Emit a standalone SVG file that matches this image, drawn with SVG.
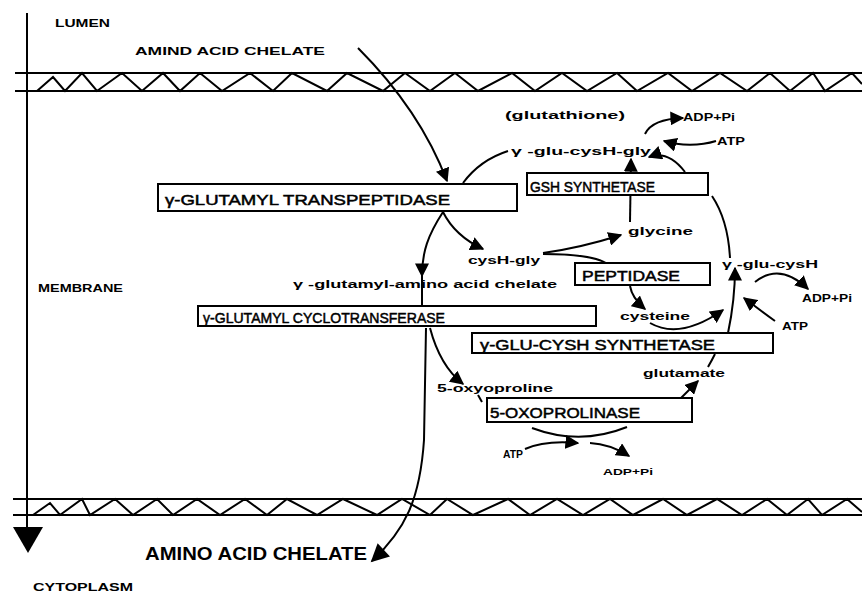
<svg xmlns="http://www.w3.org/2000/svg" width="862" height="593" viewBox="0 0 862 593">
<style>
.ln{fill:none;stroke:#000;stroke-width:2}
.zz{fill:none;stroke:#000;stroke-width:2;stroke-linejoin:miter}
.box{fill:#fff;stroke:#000;stroke-width:2}
.t{font-family:"Liberation Sans",Arial,sans-serif;font-weight:bold;fill:#000}
.bl{font-family:"Liberation Sans",Arial,sans-serif;font-size:15px;fill:#000;stroke:#000;stroke-width:0.5}
.s{font-size:10px}
</style>
<defs>
<marker id="ah" viewBox="0 0 10 10" refX="9" refY="5" markerWidth="14" markerHeight="14" markerUnits="userSpaceOnUse" orient="auto">
<path d="M0,0 L10,5 L0,10 z" fill="#000"/>
</marker>
<marker id="ahb" viewBox="0 0 10 10" refX="9" refY="5" markerWidth="20" markerHeight="18" markerUnits="userSpaceOnUse" orient="auto">
<path d="M0,0 L10,5 L0,10 z" fill="#000"/>
</marker>
</defs>
<rect width="862" height="593" fill="#fff"/>

<g id="membranes">
<line class="ln" x1="27" y1="13" x2="27" y2="528"/>
<polygon points="13,527 43,527 28,553" fill="#000"/>
<line class="ln" x1="15" y1="73" x2="862" y2="73"/>
<line class="ln" x1="15" y1="91" x2="862" y2="91"/>
<polyline class="zz" points="37,91 53,77 65,91 82,73 97,91 122,73 142,91 163,73 180,91 200,73 222,91 250,73 273,91 292,73 327,91 347,73 383,91 405,73 430,91 455,73 478,91 512,73 535,91 562,73 587,91 617,73 637,91 668,73 692,91 720,73 747,91 770,73 790,91 813,73 825,91 852,73 862,84"/>
<line class="ln" x1="13" y1="499" x2="862" y2="499"/>
<line class="ln" x1="13" y1="515" x2="862" y2="515"/>
<polyline class="zz" points="33,515 50,503 60,515 82,499 90,515 115,499 133,515 157,499 173,515 197,499 220,515 245,499 267,515 287,499 317,515 343,499 377,515 402,499 430,515 447,499 473,515 508,499 530,515 557,499 583,515 610,499 633,515 663,499 687,515 717,499 742,515 767,499 787,515 808,499 822,515 847,499 862,512"/>
</g>

<g id="labels">
<text class="t" x="55" y="27" font-size="11" textLength="55" lengthAdjust="spacingAndGlyphs">LUMEN</text>
<text class="t" x="135" y="55" font-size="11" textLength="190" lengthAdjust="spacingAndGlyphs">AMIND ACID CHELATE</text>
<text class="t" x="38" y="292" font-size="10" textLength="85" lengthAdjust="spacingAndGlyphs">MEMBRANE</text>
<text class="t" x="145" y="560" font-size="18" textLength="222" lengthAdjust="spacingAndGlyphs">AMINO ACID CHELATE</text>
<text class="t" x="33" y="591" font-size="11" textLength="100" lengthAdjust="spacingAndGlyphs">CYTOPLASM</text>
</g>

<g id="connectors">
<path class="ln" d="M358,48 Q420,110 447,181" marker-end="url(#ah)"/>
<path class="ln" d="M463,183 Q480,160 508,151"/>
<path class="ln" d="M443,212 Q455,236 483,249" marker-end="url(#ah)"/>
<path class="ln" d="M443,212 C428,235 422,252 422,276" marker-end="url(#ah)"/>
<path class="ln" d="M422,276 L422,306"/>
<path class="ln" d="M543,253 Q580,248 621,235" marker-end="url(#ah)"/>
<path class="ln" d="M543,254 Q590,254 606,263"/>
<path class="ln" d="M630,286 Q632,298 645,309" marker-end="url(#ah)"/>
<path class="ln" d="M630,222 L631,159" marker-end="url(#ah)"/>
<path class="ln" d="M730,258 Q728,220 712,196"/>
<path class="ln" d="M685,172 Q668,150 649,157" marker-end="url(#ah)"/>
<path class="ln" d="M645,134 Q652,119 683,118" marker-end="url(#ah)"/>
<path class="ln" d="M716,141 C700,146 680,146 664,141" marker-end="url(#ah)"/>
<path class="ln" d="M430,328 Q440,366 463,384" marker-end="url(#ah)"/>
<path class="ln" d="M426,328 L424,440 C420,500 405,530 372,561" marker-end="url(#ahb)"/>
<path class="ln" d="M478,395 L482,402"/>
<path class="ln" d="M680,399 L698,381" marker-end="url(#ah)"/>
<path class="ln" d="M708,367 Q712,360 715,354"/>
<path class="ln" d="M728,333 Q735,300 735,268" marker-end="url(#ah)"/>
<path class="ln" d="M650,323 Q680,340 723,310" marker-end="url(#ah)"/>
<path class="ln" d="M775,321 Q760,310 744,298" marker-end="url(#ah)"/>
<path class="ln" d="M755,282 Q780,262 808,289" marker-end="url(#ah)"/>
<path class="ln" d="M532,428 Q580,446 627,427"/>
<path class="ln" d="M525,449 Q545,440 578,443" marker-end="url(#ah)"/>
<path class="ln" d="M590,443 Q610,444 629,456" marker-end="url(#ah)"/>
</g>

<g id="glutathione">
<text class="t s" x="505" y="119" textLength="120" lengthAdjust="spacingAndGlyphs">(glutathione)</text>
<text class="t" x="511" y="155" font-size="11" textLength="140" lengthAdjust="spacingAndGlyphs">γ -glu-cysH-gly</text>
</g>
<g id="adp-top"><text class="t s" x="683" y="121" textLength="52" lengthAdjust="spacingAndGlyphs">ADP+Pi</text></g>
<g id="atp-top"><text class="t s" x="717" y="145" textLength="28" lengthAdjust="spacingAndGlyphs">ATP</text></g>

<g id="transpeptidase">
<rect class="box" x="158" y="184" width="359" height="27"/>
<text class="bl" x="165" y="205" textLength="285" lengthAdjust="spacingAndGlyphs">γ-GLUTAMYL TRANSPEPTIDASE</text>
</g>
<g id="gsh-synthetase">
<rect class="box" x="527" y="173" width="181" height="22"/>
<text class="bl" x="530" y="192" font-size="12" textLength="125" lengthAdjust="spacingAndGlyphs">GSH SYNTHETASE</text>
</g>
<g id="glycine"><text class="t s" x="628" y="235" textLength="65" lengthAdjust="spacingAndGlyphs">glycine</text></g>
<g id="cysh-gly"><text class="t s" x="468" y="264" textLength="72" lengthAdjust="spacingAndGlyphs">cysH-gly</text></g>
<g id="peptidase">
<rect class="box" x="575" y="263" width="135" height="22"/>
<text class="bl" x="582" y="281" font-size="14" textLength="98" lengthAdjust="spacingAndGlyphs">PEPTIDASE</text>
</g>
<g id="glu-cysh"><text class="t s" x="722" y="268" textLength="96" lengthAdjust="spacingAndGlyphs">γ -glu-cysH</text></g>
<g id="adp-right"><text class="t s" x="802" y="302" textLength="50" lengthAdjust="spacingAndGlyphs">ADP+Pi</text></g>
<g id="atp-right"><text class="t s" x="782" y="330" textLength="26" lengthAdjust="spacingAndGlyphs">ATP</text></g>
<g id="glutamyl-chelate"><text class="t s" x="293" y="288" textLength="264" lengthAdjust="spacingAndGlyphs">γ -glutamyl-amino acid chelate</text></g>
<g id="cysteine"><text class="t s" x="620" y="320" textLength="70" lengthAdjust="spacingAndGlyphs">cysteine</text></g>
<g id="cyclotransferase">
<rect class="box" x="198" y="306" width="398" height="20"/>
<text class="bl" x="203" y="323" textLength="242" lengthAdjust="spacingAndGlyphs">γ-GLUTAMYL CYCLOTRANSFERASE</text>
</g>
<g id="glu-cysh-synthetase">
<rect class="box" x="472" y="333" width="301" height="20"/>
<text class="bl" x="480" y="350" textLength="235" lengthAdjust="spacingAndGlyphs">γ-GLU-CYSH SYNTHETASE</text>
</g>
<g id="glutamate"><text class="t s" x="643" y="377" textLength="82" lengthAdjust="spacingAndGlyphs">glutamate</text></g>
<g id="oxoproline"><text class="t s" x="437" y="392" textLength="116" lengthAdjust="spacingAndGlyphs">5-oxyoproline</text></g>
<g id="oxoprolinase">
<rect class="box" x="487" y="398" width="205" height="24"/>
<text class="bl" x="490" y="418" font-size="14" textLength="150" lengthAdjust="spacingAndGlyphs">5-OXOPROLINASE</text>
</g>
<g id="atp-bottom"><text class="t s" x="503" y="458" textLength="20" lengthAdjust="spacingAndGlyphs">ATP</text></g>
<g id="adp-bottom"><text class="t" x="603" y="475" font-size="9" textLength="50" lengthAdjust="spacingAndGlyphs">ADP+Pi</text></g>
</svg>
